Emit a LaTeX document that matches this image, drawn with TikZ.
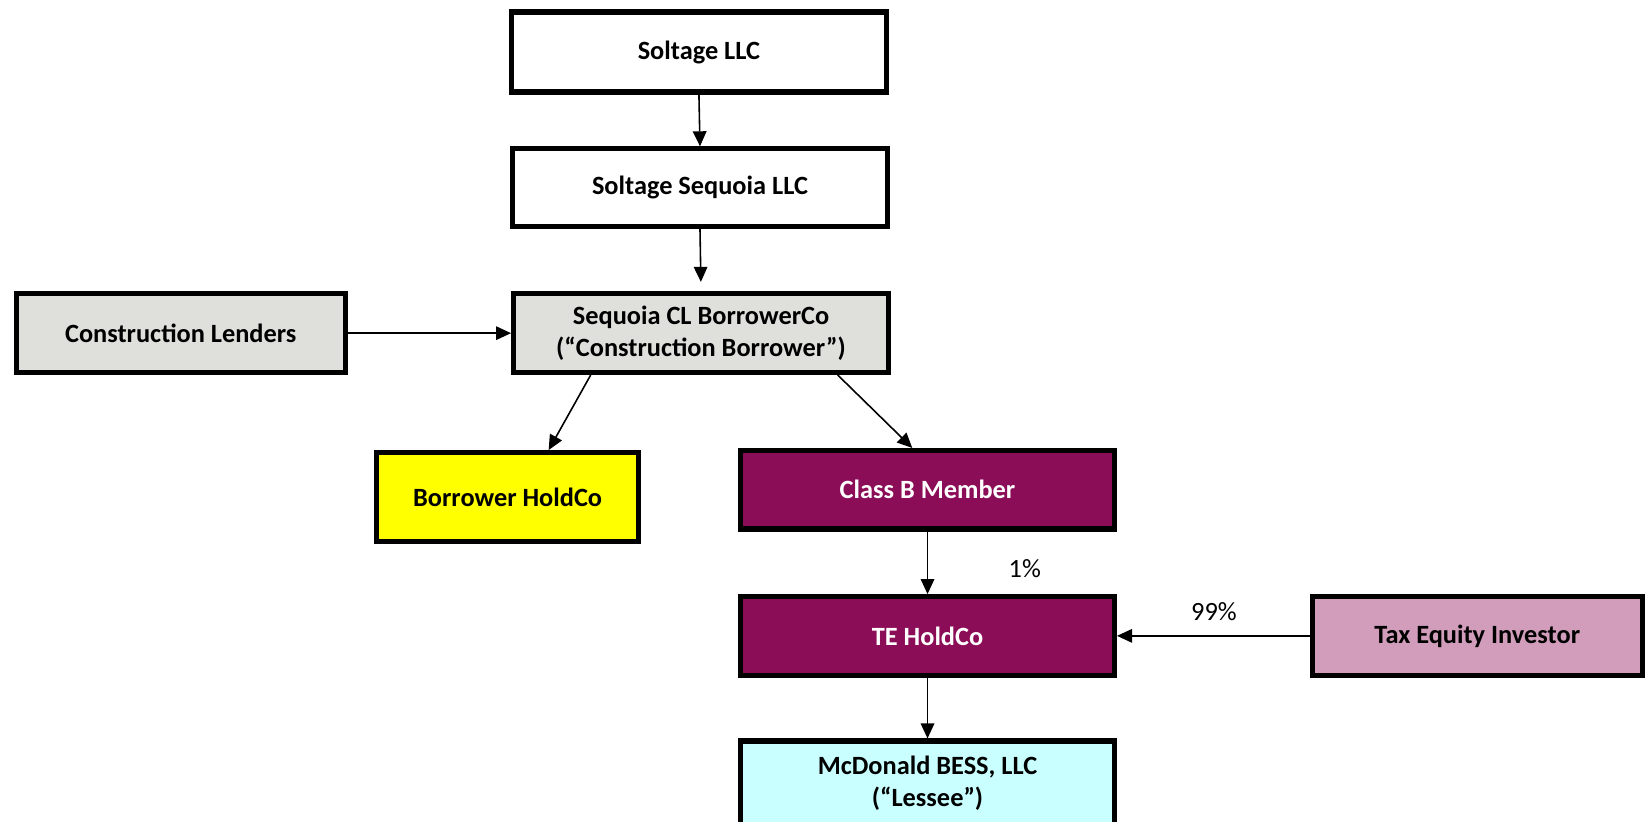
\documentclass[tikz,border=0pt]{standalone}
\usepackage{fontspec}
\setmainfont{Carlito}
\usepackage{tikz}
\usetikzlibrary{arrows.meta}
\definecolor{gray1}{HTML}{DFDFDB}
\definecolor{yellow1}{HTML}{FFFF00}
\definecolor{purple1}{HTML}{8B0D57}
\definecolor{pink1}{HTML}{D19DBB}
\definecolor{cyan1}{HTML}{C9FFFF}

\begin{document}
\begin{tikzpicture}[x=0.02102cm,y=-0.02102cm,
  box/.style={draw=black,line width=2.9pt,inner sep=0pt,align=center,
    font=\fontsize{15}{18}\selectfont\bfseries,minimum width=7.5cm,minimum height=1.57cm},
  arr/.style={-{Triangle[length=0.3cm,width=0.27cm]},line width=0.9pt},
  pct/.style={font=\fontsize{15}{18}\selectfont}]
\useasboundingbox (0,0) rectangle (1568,782);
\clip (0,0) rectangle (1568,782);
% top of the chain
\node[box,minimum height=1.6cm] (soltage) at (665,49.5) {Soltage LLC};
\node[box,minimum height=1.55cm] (sequoia) at (666,178.5) {Soltage Sequoia LLC};
\node[box,fill=gray1] (borrower) at (667,317) {Sequoia CL BorrowerCo\\(“Construction Borrower”)};
\node[box,fill=gray1,minimum width=6.58cm] (lenders) at (172,317) {Construction Lenders};
% middle row
\node[box,fill=yellow1,minimum width=5.23cm,minimum height=1.78cm] (holdco) at (483,473) {Borrower HoldCo};
\node[box,fill=purple1,text=white,minimum width=7.48cm] (classb) at (882.5,466) {Class B Member};
\node[box,fill=purple1,text=white,minimum width=7.48cm] (tehold) at (882.5,605) {TE HoldCo};
\node[box,fill=pink1,minimum width=6.6cm] (investor) at (1405.5,605) {Tax Equity Investor};
\node[box,fill=cyan1,minimum width=7.48cm,minimum height=1.68cm] (lessee) at (882.5,745) {McDonald BESS, LLC\\(“Lessee”)};
% percentages
\node[pct] (pctb) at (975,541) {1\%};
\node[pct] (pctte) at (1155,582) {99\%};
% connectors
\draw[arr] (soltage.south) -- (sequoia.north);
\draw[arr,shorten >=0.19cm] (sequoia.south) -- (borrower.north);
\draw[arr] (lenders.east) -- (borrower.west);
\draw[arr] ([xshift=-2.207cm]borrower.south) -- ([xshift=0.82cm]holdco.north);
\draw[arr] ([xshift=2.733cm]borrower.south) -- ([xshift=-0.305cm]classb.north);
\draw[arr] (classb.south) -- (tehold.north);
\draw[arr] (investor.west) -- (tehold.east);
\draw[arr] (tehold.south) -- (lessee.north);
\end{tikzpicture}
\end{document}
